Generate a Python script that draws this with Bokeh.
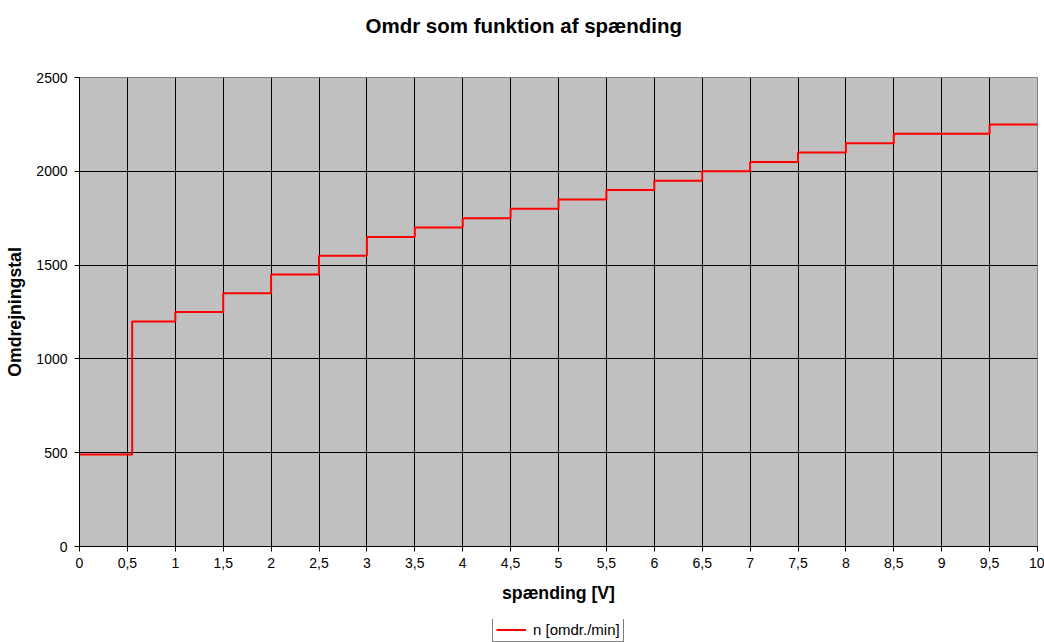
from bokeh.plotting import figure
from bokeh.models import (FixedTicker, Legend, LegendItem, Title, Range1d)
from bokeh.layouts import column
from bokeh.embed import file_html
from bokeh.resources import INLINE

# ---- data ----
spaending = [0, 0.55, 1, 1.5, 2, 2.5, 3, 3.5, 4, 4.5, 5, 5.5, 6, 6.5, 7, 7.5, 8, 8.5, 9, 9.5, 10]
omdr = [490, 1200, 1250, 1350, 1450, 1550, 1650, 1700, 1750, 1800, 1850, 1900, 1950, 2000,
        2050, 2100, 2150, 2200, 2200, 2250, 2250]
x_ticks = [0, 0.5, 1, 1.5, 2, 2.5, 3, 3.5, 4, 4.5, 5, 5.5, 6, 6.5, 7, 7.5, 8, 8.5, 9, 9.5, 10]
x_tick_labels = ["0", "0,5", "1", "1,5", "2", "2,5", "3", "3,5", "4", "4,5", "5", "5,5",
                 "6", "6,5", "7", "7,5", "8", "8,5", "9", "9,5", "10"]
y_ticks = [0, 500, 1000, 1500, 2000, 2500]

title_text = "Omdr som funktion af spænding"
x_label = "spænding [V]"
y_label = "Omdrejningstal"
series_name = "n [omdr./min]"

FONT = "Liberation Sans"
LINE_COLOR = "#FF0000"

p = figure(width=1044, height=619, output_backend="svg", toolbar_location=None,
           x_range=Range1d(0, 10), y_range=Range1d(0, 2500), title=None,
           min_border_left=79, min_border_right=7, min_border_top=77, min_border_bottom=73)

# spacer between title and plot area (closest to the frame)
p.add_layout(Title(text=" ", text_font=FONT, text_font_size="20.5px", standoff=5), "above")
# main title (further from the frame)
p.add_layout(Title(text=title_text, align="left", offset=286,
                   text_font=FONT, text_font_size="20.5px", text_font_style="bold",
                   text_color="black", standoff=22), "above")

p.background_fill_color = "#C0C0C0"
p.border_fill_color = "white"
p.outline_line_color = "#808080"
p.outline_line_width = 1

# axes
p.xaxis.ticker = FixedTicker(ticks=x_ticks)
p.xaxis.major_label_overrides = {t: l for t, l in zip(x_ticks, x_tick_labels)}
p.yaxis.ticker = FixedTicker(ticks=y_ticks)
for ax in (p.xaxis, p.yaxis):
    ax.axis_line_color = "black"
    ax.major_tick_line_color = "black"
    ax.major_tick_in = 0
    ax.major_tick_out = 5
    ax.minor_tick_line_color = None
    ax.major_label_text_font = FONT
    ax.major_label_text_font_size = "14px"
    ax.major_label_text_color = "black"
    ax.axis_label_text_font = FONT
    ax.axis_label_text_font_size = "17.7px"
    ax.axis_label_text_font_style = "bold"
    ax.axis_label_text_color = "black"
p.xaxis.axis_label = x_label
p.yaxis.axis_label = y_label
p.xaxis.major_label_standoff = 6
p.yaxis.major_label_standoff = 7
p.xaxis.axis_label_standoff = 12
p.yaxis.axis_label_standoff = 8

# grid
p.xgrid.ticker = FixedTicker(ticks=x_ticks)
p.ygrid.ticker = FixedTicker(ticks=y_ticks)
for g in (p.xgrid, p.ygrid):
    g.grid_line_color = "black"
    g.grid_line_width = 1
    g.grid_line_alpha = 1

r = p.step(spaending, omdr, mode="after", line_color=LINE_COLOR, line_width=2)

# legend strip below the chart (its frame is aligned with the chart frame)
p2 = figure(width=1044, height=23, output_backend="svg", toolbar_location=None,
            x_range=Range1d(0, 1), y_range=Range1d(0, 1),
            x_axis_type=None, y_axis_type=None,
            min_border=0, min_border_left=0, min_border_right=0,
            min_border_top=0, min_border_bottom=0)
p2.grid.visible = False
p2.outline_line_color = None
p2.background_fill_color = "white"
p2.border_fill_color = "white"
# same series, outside this strip's ranges: only its legend entry is visible
r2 = p2.step(spaending, omdr, mode="after", line_color=LINE_COLOR, line_width=2)

legend = Legend(items=[LegendItem(label=series_name, renderers=[r2])],
                location=(413, 0), margin=0, padding=3, spacing=0,
                label_text_font=FONT, label_text_font_size="15px", label_text_color="black",
                label_standoff=7, glyph_width=30, glyph_height=13, label_height=13,
                border_line_color="black", border_line_width=1,
                background_fill_color="white", background_fill_alpha=1)
p2.add_layout(legend, "center")

layout = column(p, p2, spacing=0)
open("out.html", "w").write(file_html(layout, INLINE))
